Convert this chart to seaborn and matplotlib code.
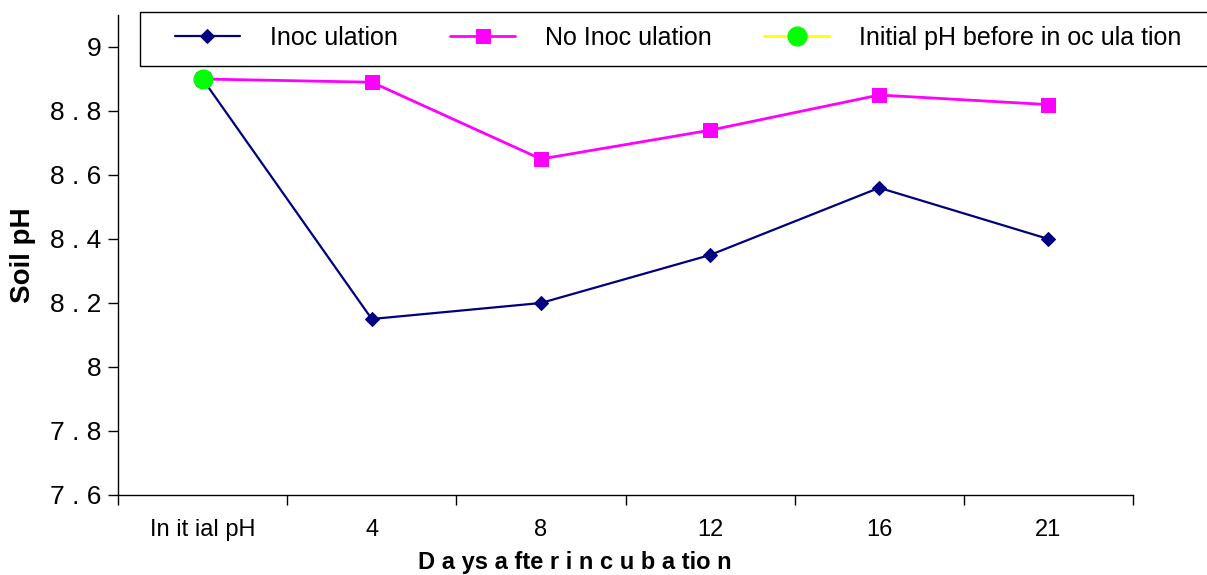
import numpy as np
import pandas as pd
import matplotlib
matplotlib.use('Agg')
import matplotlib.pyplot as plt
from matplotlib.patches import Rectangle
import seaborn as sns

days = ['In it ial pH', '4', '8', '12', '16', '21']
inoculation = [8.90, 8.15, 8.20, 8.35, 8.56, 8.40]
no_inoculation = [8.90, 8.89, 8.65, 8.74, 8.85, 8.82]
initial_ph = [8.90]
yticks = [7.6, 7.8, 8.0, 8.2, 8.4, 8.6, 8.8, 9.0]
ytick_labels = ['7 . 6', '7 . 8', '8', '8 . 2', '8 . 4', '8 . 6', '8 . 8', '9']

sns.set_style('white')
plt.rcParams['font.family'] = ['Liberation Sans', 'DejaVu Sans']
plt.rcParams['text.color'] = 'black'
plt.rcParams['axes.labelcolor'] = 'black'
plt.rcParams['xtick.color'] = 'black'
plt.rcParams['ytick.color'] = 'black'

df = pd.DataFrame({'pos': np.arange(len(days)), 'inoc': inoculation, 'noinoc': no_inoculation})

W, H = 1207, 575
fig = plt.figure(figsize=(W/100, H/100), dpi=100)
ax = fig.add_axes([118/W, 1 - 495/H, (1133 - 118)/W, (495 - 15)/H])

sns.lineplot(data=df, x='pos', y='noinoc', ax=ax, color='#ff00ff', lw=2, marker='s',
             markersize=10.5, markeredgecolor='#ff00ff', label='No Inoc ulation')
sns.lineplot(data=df, x='pos', y='inoc', ax=ax, color='#000080', lw=1.6, marker='D',
             markersize=7.5, markeredgecolor='#000080', label='Inoc ulation')
ax.plot([0], initial_ph, ls='-', color='#ffff00', lw=2, marker='o', markersize=13.5,
        markerfacecolor='#00ff00', markeredgecolor='#00ff00', label='Initial pH before in oc ula tion',
        zorder=5)

ax.set_xlim(-0.5, 5.5)
ax.set_ylim(7.6, 9.1)
ax.set_yticks(yticks)
ax.set_yticklabels(ytick_labels, fontsize=19)
ax.set_xticks(df['pos'])
ax.set_xticklabels(days, fontsize=17)
ax.set_xticks(np.arange(-0.5, 6, 1), minor=True)
ax.tick_params(axis='x', which='major', length=0, pad=17, bottom=True)
ax.tick_params(axis='x', which='minor', length=7, width=1, color='black', direction='out', bottom=True)
ax.tick_params(axis='y', length=7, width=1, color='black', direction='out', left=True, pad=5)

for s in ['top', 'right']:
    ax.spines[s].set_visible(False)
for s in ['left', 'bottom']:
    ax.spines[s].set_color('black')
    ax.spines[s].set_linewidth(1)

ax.set_xlabel('D a ys a fte r i n c u b a tio n', fontsize=17, fontweight='bold')
ax.xaxis.set_label_coords(0.45, -0.117)
ax.set_ylabel('Soil pH', fontsize=20, fontweight='bold')
ax.yaxis.set_label_coords(-0.081, 0.5)

# legend box (drawn separately so it can run off the right edge)
fig.patches.append(Rectangle((140/W, 1 - 66/H), 1080/W, 54/H, transform=fig.transFigure,
                             facecolor='white', edgecolor='black', lw=1, zorder=10))

handles, labels = ax.get_legend_handles_labels()
order = [labels.index('Inoc ulation'), labels.index('No Inoc ulation'),
         labels.index('Initial pH before in oc ula tion')]
leg = ax.legend([handles[i] for i in order], [labels[i] for i in order], ncol=3,
                loc='upper left', bbox_to_anchor=(161/W, 1 - 12/H),
                bbox_transform=fig.transFigure, fontsize=18, frameon=False,
                handlelength=2.6, columnspacing=2.1, handletextpad=1.2,
                borderpad=0.55, borderaxespad=0)
leg.set_zorder(11)
leg.remove()
fig.legends.append(leg)

fig.savefig('out.png', dpi=100)
